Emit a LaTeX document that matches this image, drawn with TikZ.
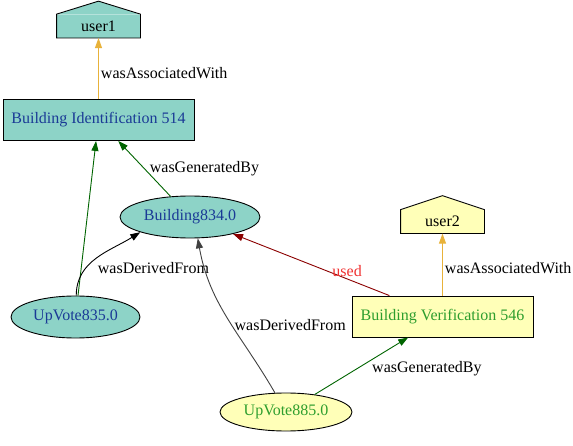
\documentclass[tikz,border=0pt]{standalone}
\usepackage{fontspec}
\setmainfont{Liberation Serif}
\usetikzlibrary{positioning, arrows.meta, shapes.geometric}

\definecolor{tealfill}{HTML}{8DD3C7}
\definecolor{yellowfill}{HTML}{FFFFB8}
\definecolor{bluetext}{HTML}{1A3A96}
\definecolor{greentext}{HTML}{2E9E2E}
\definecolor{greenedge}{HTML}{006400}
\definecolor{orangeedge}{HTML}{E8B23A}
\definecolor{rededge}{HTML}{8B0000}
\definecolor{redtext}{HTML}{F03030}

\tikzset{
    every node/.style={font=\fontsize{16}{19}\selectfont},
    activity/.style={draw, rectangle, minimum width=191pt, minimum height=41pt, inner sep=0pt},
    entity/.style={draw, ellipse, inner sep=0pt},
    agent/.style={rectangle, minimum width=83pt, minimum height=23pt, inner sep=0pt},
    rel/.style={-{Triangle[length=10pt, width=7pt]}, line width=0.9pt},
    rellabel/.style={inner sep=2pt, text=black},
}

\begin{document}
\begin{tikzpicture}[x=1pt, y=-1pt, line width=0.9pt]
    \useasboundingbox (0,0) rectangle (573,446);
    % activities
    \node (bi) [activity, fill=tealfill, text=bluetext] at (98.5,120) {Building Identification 514};
    \node (bv) [activity, fill=yellowfill, text=greentext, minimum width=181pt] at (442.5,316.5) {Building Verification 546};
    % entities
    \node (b834) [entity, fill=tealfill, text=bluetext, minimum width=140pt, minimum height=42pt] at (190,217) {Building834.0};
    \node (up835) [entity, fill=tealfill, text=bluetext, minimum width=129pt, minimum height=42pt] at (75.5,317) {UpVote835.0};
    \node (up885) [entity, fill=yellowfill, text=greentext, minimum width=132pt, minimum height=38pt] at (286,412) {UpVote885.0};
    % agents (house shape)
    \node (user1) [agent, fill=tealfill, above=61pt of bi] {user1};
    \fill [tealfill] ([yshift=-0.5pt]user1.north west) -- ([yshift=13pt]user1.north) -- ([yshift=-0.5pt]user1.north east) -- cycle;
    \draw (user1.south west) -- (user1.north west) -- ([yshift=13pt]user1.north) -- (user1.north east) -- (user1.south east) -- cycle;
    \node (user2) [agent, fill=yellowfill, above=62pt of bv] {user2};
    \fill [yellowfill] ([yshift=-0.5pt]user2.north west) -- ([yshift=14pt]user2.north) -- ([yshift=-0.5pt]user2.north east) -- cycle;
    \draw (user2.south west) -- (user2.north west) -- ([yshift=14pt]user2.north) -- (user2.north east) -- (user2.south east) -- cycle;

    % relations
    \draw [rel, orangeedge] (bi) -- (user1) node [pos=0.42, right, rellabel] {wasAssociatedWith};
    \draw [rel, greenedge] (b834) -- (bi) node [midway, right=3pt, rellabel] {wasGeneratedBy};
    \draw [rel, greenedge] (up835) -- (bi);
    \draw [rel] (up835.88) to [out=90, in=212] node [pos=0.32, right=10pt, rellabel] {wasDerivedFrom} (b834.197);
    \draw [rel, black!75] (up885) to [out=120, in=-80] node [pos=0.45, right=0pt, rellabel] {wasDerivedFrom} (b834.-70);
    \draw [rel, rededge] (bv) -- (b834) node [pos=0.27, above, rellabel, text=redtext] {used};
    \draw [rel, orangeedge] (bv) -- (user2) node [pos=0.45, right, rellabel] {wasAssociatedWith};
    \draw [rel, greenedge] (up885) -- (bv) node [pos=0.45, right=13pt, rellabel] {wasGeneratedBy};
\end{tikzpicture}
\end{document}
